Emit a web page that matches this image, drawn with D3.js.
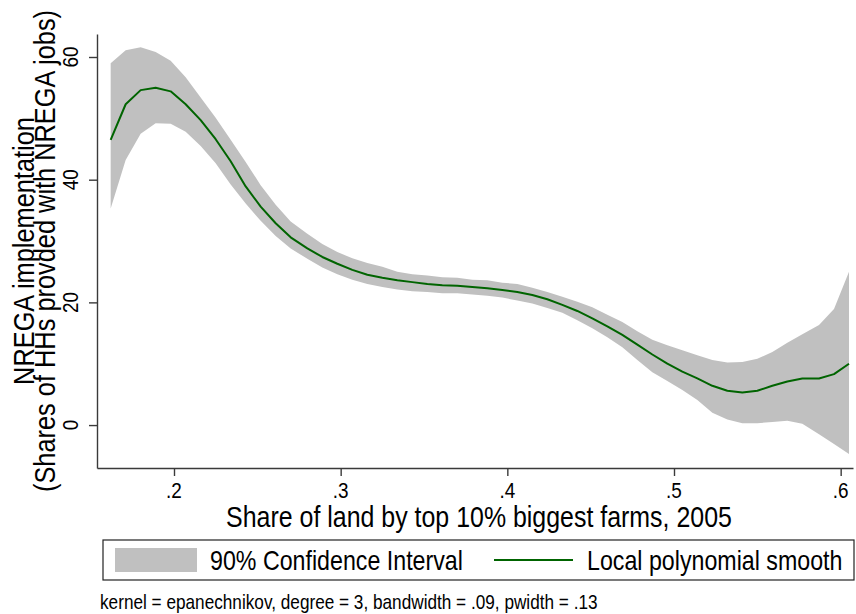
<!DOCTYPE html>
<html>
<head>
<meta charset="utf-8">
<script src="https://cdn.jsdelivr.net/npm/d3@7"></script>
<style>
  html, body { margin: 0; padding: 0; background: #fff; }
  svg { display: block; font-family: "Liberation Sans", Arial, sans-serif; }
</style>
</head>
<body>
<svg id="chart" width="856" height="614"></svg>
<script>
// Local polynomial smooth of NREGA implementation on land concentration (50 grid points)
const landShare = [
  0.162, 0.171, 0.180, 0.189, 0.198, 0.207, 0.216, 0.225, 0.234, 0.243,
  0.252, 0.261, 0.270, 0.280, 0.289, 0.298, 0.307, 0.316, 0.325, 0.334,
  0.343, 0.352, 0.361, 0.370, 0.379, 0.388, 0.397, 0.406, 0.415, 0.424,
  0.433, 0.442, 0.451, 0.460, 0.469, 0.478, 0.487, 0.496, 0.505, 0.514,
  0.523, 0.532, 0.541, 0.550, 0.559, 0.568, 0.577, 0.587, 0.596, 0.605
];
const smooth = [
  46.5, 52.3, 54.6, 55.0, 54.4, 52.3, 49.7, 46.6, 43.0, 38.9,
  35.6, 32.9, 30.6, 28.8, 27.4, 26.3, 25.3, 24.5, 24.0, 23.6,
  23.3, 23.0, 22.8, 22.7, 22.5, 22.3, 22.0, 21.7, 21.2, 20.5,
  19.6, 18.6, 17.4, 16.1, 14.7, 13.1, 11.5, 10.0, 8.7, 7.6,
  6.4, 5.6, 5.3, 5.6, 6.4, 7.1, 7.6, 7.6, 8.3, 10.0
];
const ciUpper = [
  59.0, 61.1, 61.6, 60.8, 59.4, 56.7, 53.4, 50.1, 46.5, 42.9,
  39.1, 35.9, 33.2, 31.2, 29.5, 28.2, 27.2, 26.4, 25.8, 25.0,
  24.6, 24.4, 24.1, 24.0, 23.7, 23.6, 23.2, 23.0, 22.4, 21.7,
  20.9, 20.1, 19.2, 18.0, 16.8, 15.3, 13.9, 13.0, 12.2, 11.4,
  10.6, 10.2, 10.3, 10.8, 11.9, 13.4, 14.8, 16.3, 18.9, 25.0
];
const ciLower = [
  35.3, 43.2, 47.5, 49.2, 49.1, 47.8, 45.5, 42.7, 39.2, 36.1,
  33.3, 30.8, 28.8, 27.1, 25.7, 24.6, 23.7, 23.0, 22.5, 22.1,
  21.8, 21.7, 21.5, 21.5, 21.3, 21.1, 20.8, 20.3, 19.8, 19.1,
  18.3, 17.1, 15.8, 14.3, 12.7, 10.6, 8.6, 7.2, 5.7, 4.1,
  2.0, 0.9, 0.3, 0.3, 0.5, 0.7, 0.2, -1.5, -3.1, -4.7
];
const xTicks = [0.2, 0.3, 0.4, 0.5, 0.6];
const xTickLabels = [".2", ".3", ".4", ".5", ".6"];
const yTicks = [0, 20, 40, 60];
const xTitle = "Share of land by top 10% biggest farms, 2005";
const yTitleLines = ["NREGA implementation", "(Shares of HHs provded with NREGA jobs)"];
const legendLabels = ["90% Confidence Interval", "Local polynomial smooth"];
const note = "kernel = epanechnikov, degree = 3, bandwidth = .09, pwidth = .13";

const C = { band: "#c0c0c0", line: "#006400", axis: "#3a3a3a", text: "#000" };
const plot = { left: 97, right: 853, top: 34, bottom: 468 };
const SQ = 0.86; // horizontal squeeze of the narrow label face

const svg = d3.select("#chart");
const x = d3.scaleLinear().domain([0.1538, 0.6074]).range([plot.left, plot.right]);
const y = d3.scaleLinear().domain([-7.0, 63.75]).range([plot.bottom, plot.top]);

const rows = landShare.map((v, i) => ({ x: v, m: smooth[i], lo: ciLower[i], hi: ciUpper[i] }));

// confidence band
svg.append("path")
  .datum(rows)
  .attr("fill", C.band)
  .attr("d", d3.area().x(d => x(d.x)).y0(d => y(d.lo)).y1(d => y(d.hi)));

// smooth line
svg.append("path")
  .datum(rows)
  .attr("fill", "none")
  .attr("stroke", C.line)
  .attr("stroke-width", 2)
  .attr("stroke-linejoin", "round")
  .attr("d", d3.line().x(d => x(d.x)).y(d => y(d.m)));

// narrow text helper
function label(parent, px, py, angle, str, size, anchor, squeeze) {
  const g = parent.append("g")
    .attr("transform", `translate(${px},${py}) rotate(${angle}) scale(${squeeze},1)`);
  return g.append("text")
    .attr("text-anchor", anchor)
    .attr("font-size", size)
    .attr("fill", C.text)
    .text(str);
}

// x axis
const xAxis = svg.append("g")
  .attr("transform", `translate(0,${plot.bottom})`)
  .call(d3.axisBottom(x).tickValues(xTicks).tickSize(8).tickSizeOuter(0).tickFormat(""));
xAxis.selectAll("path, line").attr("stroke", C.axis).attr("stroke-width", 1.4);
xTicks.forEach((t, i) => label(svg, x(t), 498, 0, xTickLabels[i], 22, "middle", SQ));

// y axis
const yAxis = svg.append("g")
  .attr("transform", `translate(${plot.left},0)`)
  .call(d3.axisLeft(y).tickValues(yTicks).tickSize(8).tickSizeOuter(0).tickFormat(""));
yAxis.selectAll("path, line").attr("stroke", C.axis).attr("stroke-width", 1.4);
yTicks.forEach(t => label(svg, 78, y(t), -90, String(t), 22, "middle", SQ));

// axis titles
const midY = (plot.top + plot.bottom) / 2;
label(svg, 479, 527, 0, xTitle, 29, "middle", SQ);
label(svg, 34, midY, -90, yTitleLines[0], 29.5, "middle", SQ);
label(svg, 55, midY, -90, yTitleLines[1], 29.5, "middle", SQ);

// legend
const lg = { left: 103, right: 854, top: 540, bottom: 580 };
svg.append("rect")
  .attr("x", lg.left).attr("y", lg.top)
  .attr("width", lg.right - lg.left).attr("height", lg.bottom - lg.top)
  .attr("fill", "#fff").attr("stroke", "#222").attr("stroke-width", 1.2);
svg.append("rect")
  .attr("x", 115).attr("y", 548).attr("width", 82).attr("height", 24)
  .attr("fill", C.band);
label(svg, 210, 570, 0, legendLabels[0], 27, "start", SQ);
svg.append("line")
  .attr("x1", 494).attr("x2", 573).attr("y1", 560).attr("y2", 560)
  .attr("stroke", C.line).attr("stroke-width", 2);
label(svg, 587, 570, 0, legendLabels[1], 27, "start", SQ);

// note
label(svg, 100, 609, 0, note, 20, "start", SQ);
</script>
</body>
</html>
